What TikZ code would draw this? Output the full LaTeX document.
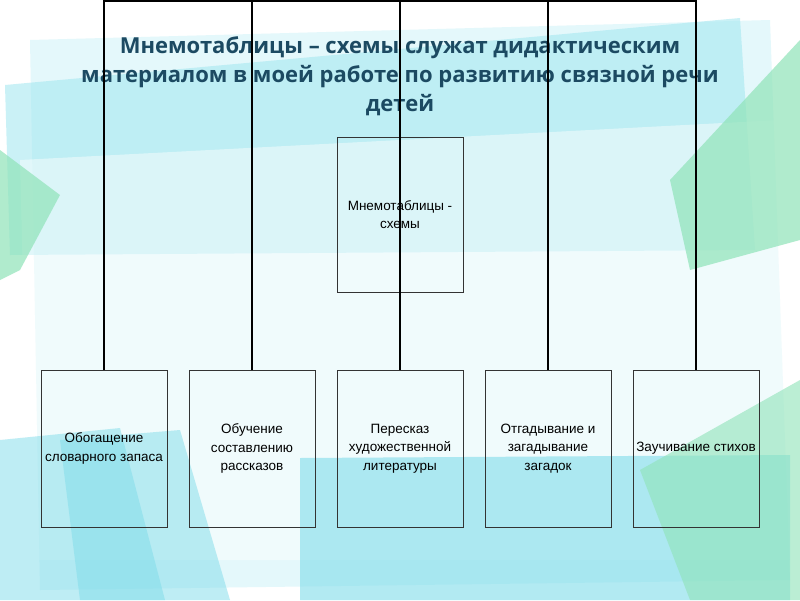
\documentclass[tikz,border=0pt]{standalone}
\usepackage{fontspec}
\setmainfont{Liberation Sans}
\newfontfamily\titlefont{Open Sans}
\definecolor{bgc}{HTML}{E4F8FB}
\definecolor{cy}{HTML}{9FE6F0}
\definecolor{cyd}{HTML}{7FDCEA}
\definecolor{gr}{HTML}{8FE3B8}
\definecolor{tc}{HTML}{1C4A62}
\begin{document}
\begin{tikzpicture}[x=1pt,y=-1pt,
  box/.style={draw=black!80,line width=0.6pt,minimum width=126pt,minimum height=157pt,inner sep=0pt,align=center,font=\fontsize{13.5}{18.5}\selectfont},
  conn/.style={line width=1.4pt,black}]
\useasboundingbox (0,0) rectangle (800,600);
\fill[white] (0,0) rectangle (800,600);
% background decoration
\fill[bgc] (30,40) -- (770,20) -- (790,580) -- (40,590) -- cycle;
\fill[cy,opacity=0.55] (5,85) -- (740,18) -- (755,250) -- (10,255) -- cycle;
\fill[white,opacity=0.45] (20,160) -- (780,120) -- (790,560) -- (30,560) -- cycle;
\fill[gr,opacity=0.7] (0,150) -- (60,195) -- (20,270) -- (0,280) -- cycle;
\fill[gr,opacity=0.7] (670,180) -- (800,40) -- (800,240) -- (690,270) -- cycle;
\fill[cyd,opacity=0.5] (0,440) -- (120,428) -- (165,600) -- (0,600) -- cycle;
\fill[cyd,opacity=0.5] (60,440) -- (180,430) -- (230,600) -- (80,600) -- cycle;
\fill[cyd,opacity=0.6] (300,458) -- (790,455) -- (790,600) -- (300,600) -- cycle;
\fill[gr,opacity=0.6] (640,470) -- (800,380) -- (800,600) -- (690,600) -- cycle;
% title
\node[font=\titlefont\bfseries\fontsize{22}{29}\selectfont,text=tc,align=center] (t) at (400,76)
 {Мнемотаблицы – схемы служат дидактическим\\материалом в моей работе по развитию связной речи\\детей};
% boxes
\node[box,minimum height=155pt] (m) at (400,214.5) {Мнемотаблицы -\\схемы};
\node[box] (b1) at (104,448.5) {Обогащение\\словарного запаса};
\node[box] (b2) at (252,448.5) {Обучение\\составлению\\рассказов};
\node[box] (b3) at (400,448.5) {Пересказ\\художественной\\литературы};
\node[box] (b4) at (548,448.5) {Отгадывание и\\загадывание\\загадок};
\node[box] (b5) at (696,448.5) {Заучивание стихов};
\coordinate (top) at (400,1);
\draw[conn] (b1.north) -- (b1.north |- top) -- (b5.north |- top) -- (b5.north);
\draw[conn] (b2.north) -- (b2.north |- top);
\draw[conn] (b3.north) -- (top);
\draw[conn] (b4.north) -- (b4.north |- top);
\end{tikzpicture}
\end{document}
